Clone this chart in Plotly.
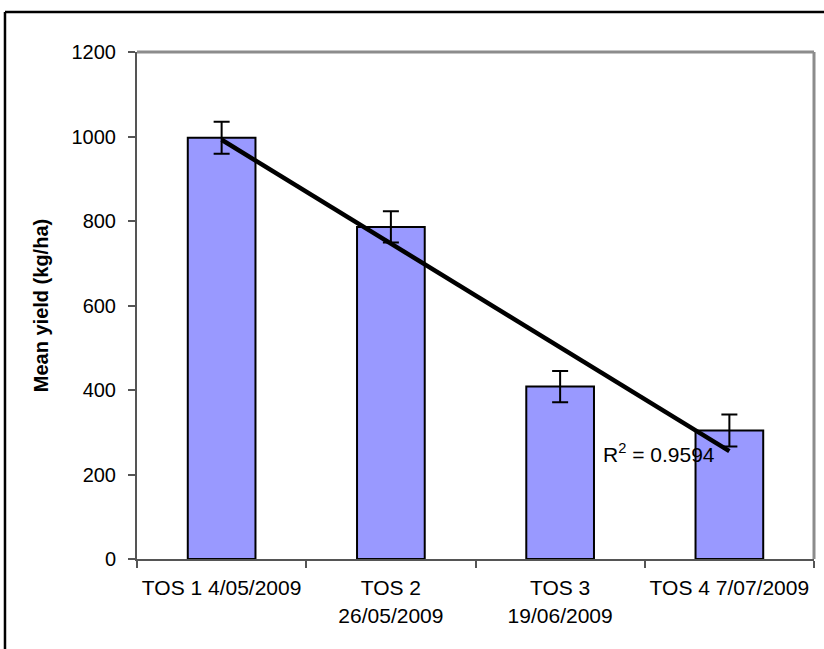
import numpy as np
import plotly.graph_objects as go

# Sowing dates (time of sowing) and mean yields
categories = ["TOS 1 4/05/2009", "TOS 2<br>26/05/2009", "TOS 3<br>19/06/2009", "TOS 4 7/07/2009"]
mean_yield = [997, 786, 408, 304]
yield_err = [38, 37, 37, 38]
r2_label = "R<sup>2</sup> = 0.9594"

FONT = "Liberation Sans, Arial, sans-serif"

# Linear trend through the four means
xi = np.arange(len(mean_yield))
slope, intercept = np.polyfit(xi + 1, mean_yield, 1)
trend = [intercept + slope * (xi[0] + 1), intercept + slope * (xi[-1] + 1)]

fig = go.Figure()
fig.add_trace(go.Bar(
    x=categories, y=mean_yield,
    marker=dict(color="#9999FF", line=dict(color="black", width=2)),
    error_y=dict(type="data", array=yield_err, color="black", thickness=2, width=8),
    showlegend=False,
))
fig.add_trace(go.Scatter(
    x=[categories[0], categories[-1]], y=trend,
    mode="lines", line=dict(color="black", width=4.5), showlegend=False,
))

fig.update_layout(
    width=824, height=649,
    margin=dict(l=137, r=10, t=52, b=90),
    paper_bgcolor="white", plot_bgcolor="white",
    font=dict(family=FONT, size=20, color="black"),
    bargap=0.6,
    xaxis=dict(
        type="category", showline=True, linecolor="#555", linewidth=2,
        ticks="outside", ticklen=7, tickcolor="#555", tickwidth=1.5,
        tickson="boundaries", showgrid=False, zeroline=False,
        ticklabelstandoff=9,
        tickfont=dict(family=FONT, size=21),
    ),
    yaxis=dict(
        range=[0, 1200], dtick=200, showline=True, linecolor="#555", linewidth=2,
        ticks="outside", ticklen=7, tickcolor="#555", tickwidth=1.5,
        showgrid=False, zeroline=False, ticklabelstandoff=8,
        tickfont=dict(family=FONT, size=20),
        title=dict(text="<b>Mean yield (kg/ha)</b>", font=dict(family=FONT, size=20), standoff=18),
    ),
    shapes=[
        # plot-area frame (top and right edges)
        dict(type="line", xref="paper", yref="paper", x0=0, x1=1, y0=1, y1=1,
             line=dict(color="#8c8c8c", width=3)),
        dict(type="line", xref="paper", yref="paper", x0=1, x1=1, y0=0, y1=1,
             line=dict(color="#8c8c8c", width=3)),
        # chart-area border
        dict(type="line", xref="paper", yref="paper", x0=-0.195, x1=1.1, y0=1.079, y1=1.079,
             line=dict(color="black", width=2.5)),
        dict(type="line", xref="paper", yref="paper", x0=-0.195, x1=-0.195, y0=1.079, y1=-0.25,
             line=dict(color="black", width=2.5)),
    ],
    annotations=[
        dict(x=2.24, y=251, xref="x", yref="y", text=r2_label, showarrow=False,
             xanchor="left", yanchor="middle", font=dict(family=FONT, size=21, color="black")),
    ],
)

fig.write_html("out.html")
